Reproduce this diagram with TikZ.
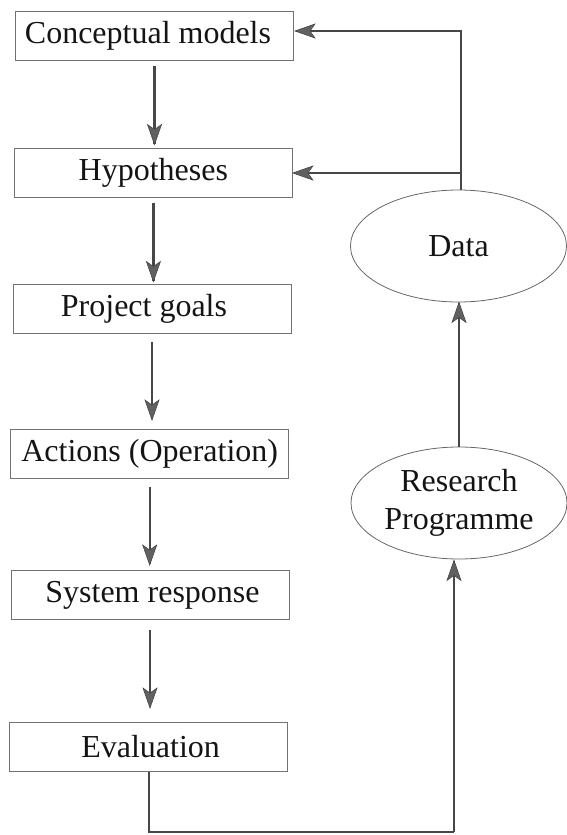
\documentclass[tikz,border=0pt]{standalone}
\usepackage{fontspec}
\setmainfont{Liberation Serif}
\usetikzlibrary{shapes.geometric,decorations.markings,calc}

\colorlet{linecol}{black!72}
\colorlet{tipcol}{black!62}

\tikzset{
  stepbox/.style={draw=black!55, line width=0.9pt, rectangle,
    minimum width=278pt, minimum height=49pt, inner sep=0pt,
    text=black!92, font=\fontsize{32}{38}\selectfont},
  oval/.style={draw=black!60, line width=0.8pt, ellipse,
    minimum width=216pt, minimum height=112pt, inner sep=0pt,
    align=center, text=black!92, font=\fontsize{32}{38}\selectfont},
  link/.style={draw=linecol, line width=2.2pt},
  % connector ending in a filled kite-shaped head
  conn/.style={link, postaction={decorate},
    decoration={markings, mark=at position 1 with {
      \fill[tipcol, draw=linecol, line width=0.6pt, line join=miter]
        (1pt,0pt) -- (-19pt,7pt) -- (-14pt,0pt) -- (-19pt,-7pt) -- cycle;}}}
}

\begin{document}
\begin{tikzpicture}[x=1pt,y=-1pt]
  \useasboundingbox (0,0) rectangle (567,835);

  % main chain of steps
  \node[stepbox] (cm)    at (154.5,36)  {\hspace*{-13pt}Conceptual models};
  \node[stepbox] (hyp)   at (153.4,172.5) {Hypotheses};
  \node[stepbox] (goals) at (152,309)   {\hspace*{-16pt}Project goals};
  \node[stepbox] (act)   at (149.7,454) {Actions (Operation)};
  \node[stepbox] (resp)  at (150,595)   {\hspace*{5pt}System response};
  \node[stepbox] (eval)  at (148.6,747) {\hspace*{4pt}Evaluation};

  % research side
  \node[oval] (data) at (458.5,246) {Data};
  \node[oval] (rp)   at (459,503)   {Research\\Programme};

  % downward flow
  \draw[conn] ($(cm.south)+(0,5.5)$)    -- ($(cm.south |- hyp.north)+(0,-4)$);
  \draw[conn] ($(hyp.south)+(0,6)$)     -- ($(hyp.south |- goals.north)+(0,-3.5)$);
  \draw[conn] ($(goals.south)+(0,8.5)$) -- ($(goals.south |- act.north)+(0,-10)$);
  \draw[conn] ($(act.south)+(0,8.5)$)   -- ($(act.south |- resp.north)+(0,-6)$);
  \draw[conn] ($(resp.south)+(0,10.5)$) -- ($(resp.south |- eval.north)+(0,-15)$);

  % loop from evaluation into the research programme
  \coordinate (botl) at (148.6,832);
  \coordinate (botr) at (454,832);
  \draw[link] (eval.south) -- (botl) -- (botr);
  \draw[conn] (botr) -- ($(botr |- rp.south)+(0,2)$);

  % research programme feeds the data
  \draw[conn] (rp.north) -- ($(rp.north |- data.south)+(0,1)$);

  % data feeds back to models and hypotheses
  \coordinate (fbtop) at (461,31);
  \coordinate (fbmid) at (461,173);
  \draw[conn] (fbmid |- data.north) -- (fbtop) -- ($(fbtop -| cm.east)+(2,0)$);
  \draw[conn] (fbmid) -- ($(fbmid -| hyp.east)+(1,0)$);
\end{tikzpicture}
\end{document}
